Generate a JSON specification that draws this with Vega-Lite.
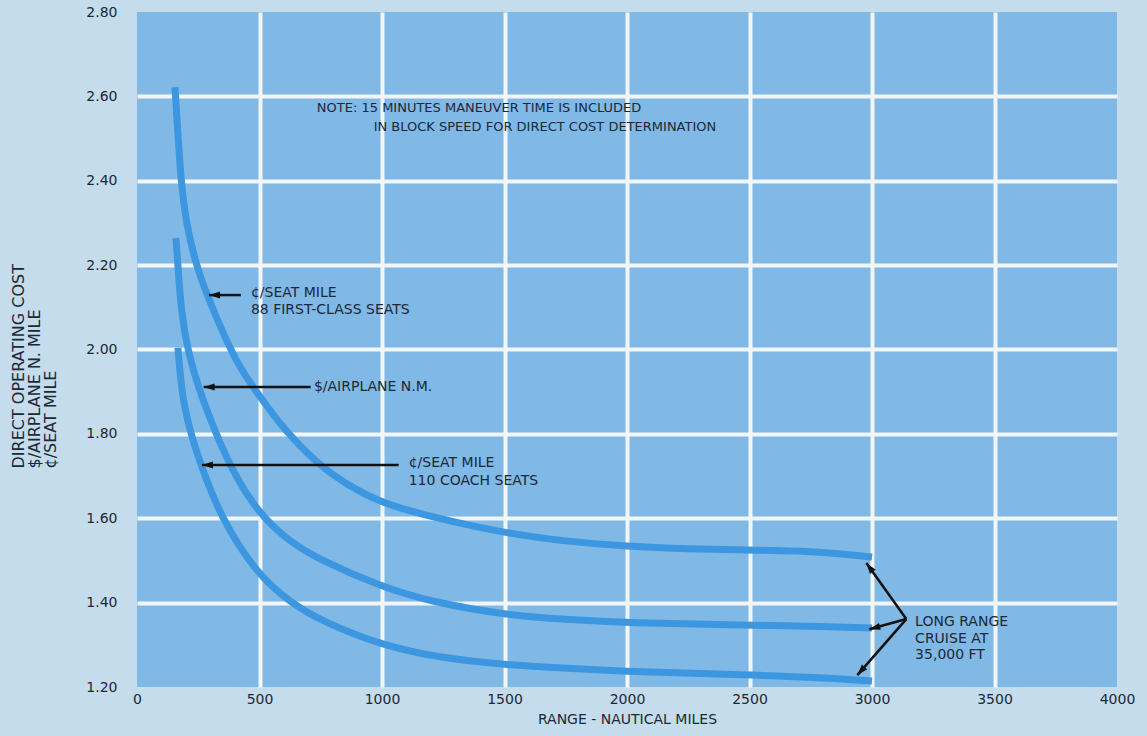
{
  "$schema": "https://vega.github.io/schema/vega-lite/v6.json",
  "width": 980,
  "height": 675,
  "autosize": {"type": "none"},
  "padding": {"left": 137, "top": 12, "right": 30, "bottom": 49},
  "background": "#c5dcec",
  "config": {
    "view": {"fill": "#80b9e6", "stroke": null},
    "font": "DejaVu Sans",
    "axis": {
      "labelFont": "DejaVu Sans",
      "titleFont": "DejaVu Sans",
      "labelColor": "#1c2836",
      "titleColor": "#1c2836",
      "titleFontWeight": "normal",
      "domain": false,
      "ticks": false,
      "gridColor": "#f2f6f6",
      "gridWidth": 4
    }
  },
  "datasets": {
    "curves": [
      {"series": "88 first-class", "range": 155, "cost": 2.622},
      {"series": "88 first-class", "range": 168, "cost": 2.5},
      {"series": "88 first-class", "range": 180, "cost": 2.4},
      {"series": "88 first-class", "range": 200, "cost": 2.3},
      {"series": "88 first-class", "range": 241, "cost": 2.2},
      {"series": "88 first-class", "range": 289, "cost": 2.125},
      {"series": "88 first-class", "range": 350, "cost": 2.04},
      {"series": "88 first-class", "range": 420, "cost": 1.955},
      {"series": "88 first-class", "range": 500, "cost": 1.89},
      {"series": "88 first-class", "range": 600, "cost": 1.81},
      {"series": "88 first-class", "range": 738, "cost": 1.728},
      {"series": "88 first-class", "range": 850, "cost": 1.682},
      {"series": "88 first-class", "range": 1000, "cost": 1.634},
      {"series": "88 first-class", "range": 1240, "cost": 1.598},
      {"series": "88 first-class", "range": 1500, "cost": 1.565},
      {"series": "88 first-class", "range": 1750, "cost": 1.545},
      {"series": "88 first-class", "range": 2000, "cost": 1.533},
      {"series": "88 first-class", "range": 2250, "cost": 1.527},
      {"series": "88 first-class", "range": 2500, "cost": 1.525},
      {"series": "88 first-class", "range": 2700, "cost": 1.523},
      {"series": "88 first-class", "range": 2850, "cost": 1.517},
      {"series": "88 first-class", "range": 3000, "cost": 1.508},
      {"series": "airplane", "range": 159, "cost": 2.264},
      {"series": "airplane", "range": 167, "cost": 2.2},
      {"series": "airplane", "range": 180, "cost": 2.09},
      {"series": "airplane", "range": 208, "cost": 1.995},
      {"series": "airplane", "range": 249, "cost": 1.911},
      {"series": "airplane", "range": 322, "cost": 1.8},
      {"series": "airplane", "range": 400, "cost": 1.7},
      {"series": "airplane", "range": 500, "cost": 1.61},
      {"series": "airplane", "range": 620, "cost": 1.545},
      {"series": "airplane", "range": 750, "cost": 1.5},
      {"series": "airplane", "range": 1000, "cost": 1.437},
      {"series": "airplane", "range": 1200, "cost": 1.402},
      {"series": "airplane", "range": 1500, "cost": 1.371},
      {"series": "airplane", "range": 1750, "cost": 1.36},
      {"series": "airplane", "range": 2000, "cost": 1.352},
      {"series": "airplane", "range": 2500, "cost": 1.347},
      {"series": "airplane", "range": 2800, "cost": 1.343},
      {"series": "airplane", "range": 3000, "cost": 1.34},
      {"series": "110 coach", "range": 167, "cost": 2.004},
      {"series": "110 coach", "range": 185, "cost": 1.88},
      {"series": "110 coach", "range": 225, "cost": 1.79},
      {"series": "110 coach", "range": 261, "cost": 1.726},
      {"series": "110 coach", "range": 343, "cost": 1.6},
      {"series": "110 coach", "range": 493, "cost": 1.465},
      {"series": "110 coach", "range": 628, "cost": 1.4},
      {"series": "110 coach", "range": 750, "cost": 1.357},
      {"series": "110 coach", "range": 1000, "cost": 1.298},
      {"series": "110 coach", "range": 1250, "cost": 1.268},
      {"series": "110 coach", "range": 1500, "cost": 1.252},
      {"series": "110 coach", "range": 2000, "cost": 1.236},
      {"series": "110 coach", "range": 2500, "cost": 1.229},
      {"series": "110 coach", "range": 2800, "cost": 1.222},
      {"series": "110 coach", "range": 3000, "cost": 1.214}
    ],
    "arrows": [
      {"id": "a1", "range": 424, "cost": 2.129, "range2": 294, "cost2": 2.129},
      {"id": "a2", "range": 709, "cost": 1.911, "range2": 272, "cost2": 1.911},
      {"id": "a3", "range": 1068, "cost": 1.726, "range2": 265, "cost2": 1.726},
      {"id": "b1", "range": 3140, "cost": 1.361, "range2": 2977, "cost2": 1.494},
      {"id": "b2", "range": 3140, "cost": 1.361, "range2": 2989, "cost2": 1.337},
      {"id": "b3", "range": 3140, "cost": 1.361, "range2": 2940, "cost2": 1.228}
    ],
    "labels": [
      {"kind": "label", "range": 465, "cost": 2.133, "text": "¢/SEAT MILE"},
      {"kind": "label", "range": 465, "cost": 2.093, "text": "88 FIRST-CLASS SEATS"},
      {"kind": "label", "range": 722, "cost": 1.911, "text": "$/AIRPLANE N.M."},
      {"kind": "label", "range": 1109, "cost": 1.731, "text": "¢/SEAT MILE"},
      {"kind": "label", "range": 1109, "cost": 1.688, "text": "110 COACH SEATS"},
      {"kind": "label", "range": 3176, "cost": 1.354, "text": "LONG RANGE"},
      {"kind": "label", "range": 3176, "cost": 1.314, "text": "CRUISE AT"},
      {"kind": "label", "range": 3176, "cost": 1.276, "text": "35,000 FT"},
      {"kind": "note", "range": 734, "cost": 2.572, "text": "NOTE: 15 MINUTES MANEUVER TIME IS INCLUDED"},
      {"kind": "note", "range": 966, "cost": 2.527, "text": "IN BLOCK SPEED FOR DIRECT COST DETERMINATION"}
    ]
  },
  "layer": [
    {
      "data": {"name": "curves"},
      "mark": {"type": "line", "interpolate": "basis", "strokeWidth": 7, "color": "#3d97e0", "strokeCap": "butt"},
      "encoding": {
        "x": {
          "field": "range", "type": "quantitative",
          "scale": {"domain": [0, 4000], "nice": false, "zero": false},
          "axis": {
            "values": [0, 500, 1000, 1500, 2000, 2500, 3000, 3500, 4000],
            "format": "d",
            "labelFontSize": 14,
            "labelPadding": 5,
            "labelFlush": false,
            "title": "RANGE - NAUTICAL MILES",
            "titleFontSize": 14,
            "titlePadding": 6,
            "gridOpacity": {"condition": {"test": "datum.value <= 0 || datum.value >= 4000", "value": 0}, "value": 1}
          }
        },
        "y": {
          "field": "cost", "type": "quantitative",
          "scale": {"domain": [1.2, 2.8], "nice": false, "zero": false},
          "axis": {
            "values": [1.2, 1.4, 1.6, 1.8, 2.0, 2.2, 2.4, 2.6, 2.8],
            "format": ".2f",
            "labelFontSize": 14,
            "labelPadding": 20,
            "title": ["DIRECT OPERATING COST", "$/AIRPLANE N. MILE", "¢/SEAT MILE"],
            "titleFontSize": 16,
            "titleLineHeight": 16,
            "titleAlign": "left",
            "titleBaseline": "top",
            "titleAngle": -90,
            "titleX": -127,
            "titleY": 456,
            "gridOpacity": {"condition": {"test": "datum.value <= 1.2 || datum.value >= 2.8", "value": 0}, "value": 1}
          }
        },
        "detail": {"field": "series"}
      }
    },
    {
      "data": {"name": "arrows"},
      "mark": {"type": "rule", "color": "#111111", "strokeWidth": 2.5},
      "encoding": {
        "x": {"field": "range", "type": "quantitative"},
        "y": {"field": "cost", "type": "quantitative"},
        "x2": {"field": "range2"},
        "y2": {"field": "cost2"}
      }
    },
    {
      "data": {"name": "arrows"},
      "transform": [{"filter": "indexof(['a1','a2','a3'], datum.id) >= 0"}],
      "mark": {"type": "point", "shape": "M0,0L0.7,2.2L-0.7,2.2Z", "filled": true, "color": "#111111", "opacity": 1, "size": 100, "angle": 270},
      "encoding": {
        "x": {"field": "range2", "type": "quantitative"},
        "y": {"field": "cost2", "type": "quantitative"}
      }
    },
    {
      "data": {"name": "arrows"},
      "transform": [{"filter": "datum.id === 'b1'"}],
      "mark": {"type": "point", "shape": "M0,0L0.7,2.2L-0.7,2.2Z", "filled": true, "color": "#111111", "opacity": 1, "size": 100, "angle": 324},
      "encoding": {
        "x": {"field": "range2", "type": "quantitative"},
        "y": {"field": "cost2", "type": "quantitative"}
      }
    },
    {
      "data": {"name": "arrows"},
      "transform": [{"filter": "datum.id === 'b2'"}],
      "mark": {"type": "point", "shape": "M0,0L0.7,2.2L-0.7,2.2Z", "filled": true, "color": "#111111", "opacity": 1, "size": 100, "angle": 255},
      "encoding": {
        "x": {"field": "range2", "type": "quantitative"},
        "y": {"field": "cost2", "type": "quantitative"}
      }
    },
    {
      "data": {"name": "arrows"},
      "transform": [{"filter": "datum.id === 'b3'"}],
      "mark": {"type": "point", "shape": "M0,0L0.7,2.2L-0.7,2.2Z", "filled": true, "color": "#111111", "opacity": 1, "size": 100, "angle": 221},
      "encoding": {
        "x": {"field": "range2", "type": "quantitative"},
        "y": {"field": "cost2", "type": "quantitative"}
      }
    },
    {
      "data": {"name": "labels"},
      "transform": [{"filter": "datum.kind === 'label'"}],
      "mark": {"type": "text", "align": "left", "baseline": "middle", "fontSize": 14, "color": "#1c2836", "font": "DejaVu Sans"},
      "encoding": {
        "x": {"field": "range", "type": "quantitative"},
        "y": {"field": "cost", "type": "quantitative"},
        "text": {"field": "text"}
      }
    },
    {
      "data": {"name": "labels"},
      "transform": [{"filter": "datum.kind === 'note'"}],
      "mark": {"type": "text", "align": "left", "baseline": "middle", "fontSize": 13, "color": "#1c2836", "font": "DejaVu Sans"},
      "encoding": {
        "x": {"field": "range", "type": "quantitative"},
        "y": {"field": "cost", "type": "quantitative"},
        "text": {"field": "text"}
      }
    }
  ]
}
